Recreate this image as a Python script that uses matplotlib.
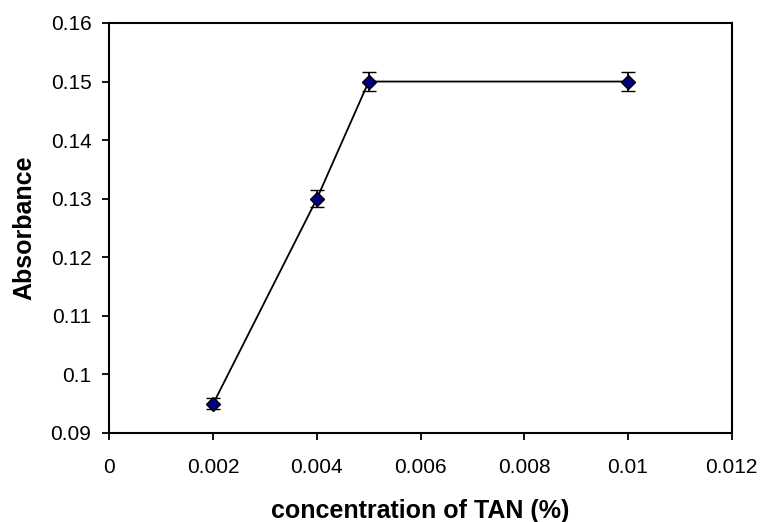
import numpy as np
import matplotlib
matplotlib.use('Agg')
import matplotlib.pyplot as plt

# data
conc = [0.002, 0.004, 0.005, 0.01]
absorbance = [0.095, 0.13, 0.15, 0.15]
err = [0.0009, 0.0014, 0.0016, 0.0016]

xticks = [0, 0.002, 0.004, 0.006, 0.008, 0.01, 0.012]
xticklabels = ['0', '0.002', '0.004', '0.006', '0.008', '0.01', '0.012']
yticks = [0.09, 0.1, 0.11, 0.12, 0.13, 0.14, 0.15, 0.16]
yticklabels = ['0.09', '0.1', '0.11', '0.12', '0.13', '0.14', '0.15', '0.16']

plt.rcParams['font.family'] = ['Liberation Sans', 'DejaVu Sans']

fig = plt.figure(figsize=(7.62, 5.22), dpi=100)
ax = fig.add_axes([0.1437, 0.1705, 0.8165, 0.7855])

ax.errorbar(conc, absorbance, yerr=err, color='black', lw=1.3,
            marker='D', ms=7, mfc='#000080', mec='black', mew=1,
            ecolor='black', elinewidth=1.3, capsize=5, capthick=1.3)

ax.set_xlim(0, 0.012)
ax.set_ylim(0.09, 0.16)
ax.set_xticks(xticks)
ax.set_xticklabels(xticklabels)
ax.set_yticks(yticks)
ax.set_yticklabels(yticklabels)
ax.tick_params(direction='out', length=5, width=1.3, labelsize=15)
ax.tick_params(axis='x', pad=13)
ax.tick_params(axis='y', pad=8)

for s in ax.spines.values():
    s.set_linewidth(1.5)

ax.set_xlabel('concentration of TAN (%)', fontsize=18, fontweight='bold', labelpad=16)
ax.set_ylabel('Absorbance', fontsize=18, fontweight='bold', labelpad=10)

fig.savefig('out.png', dpi=100)
